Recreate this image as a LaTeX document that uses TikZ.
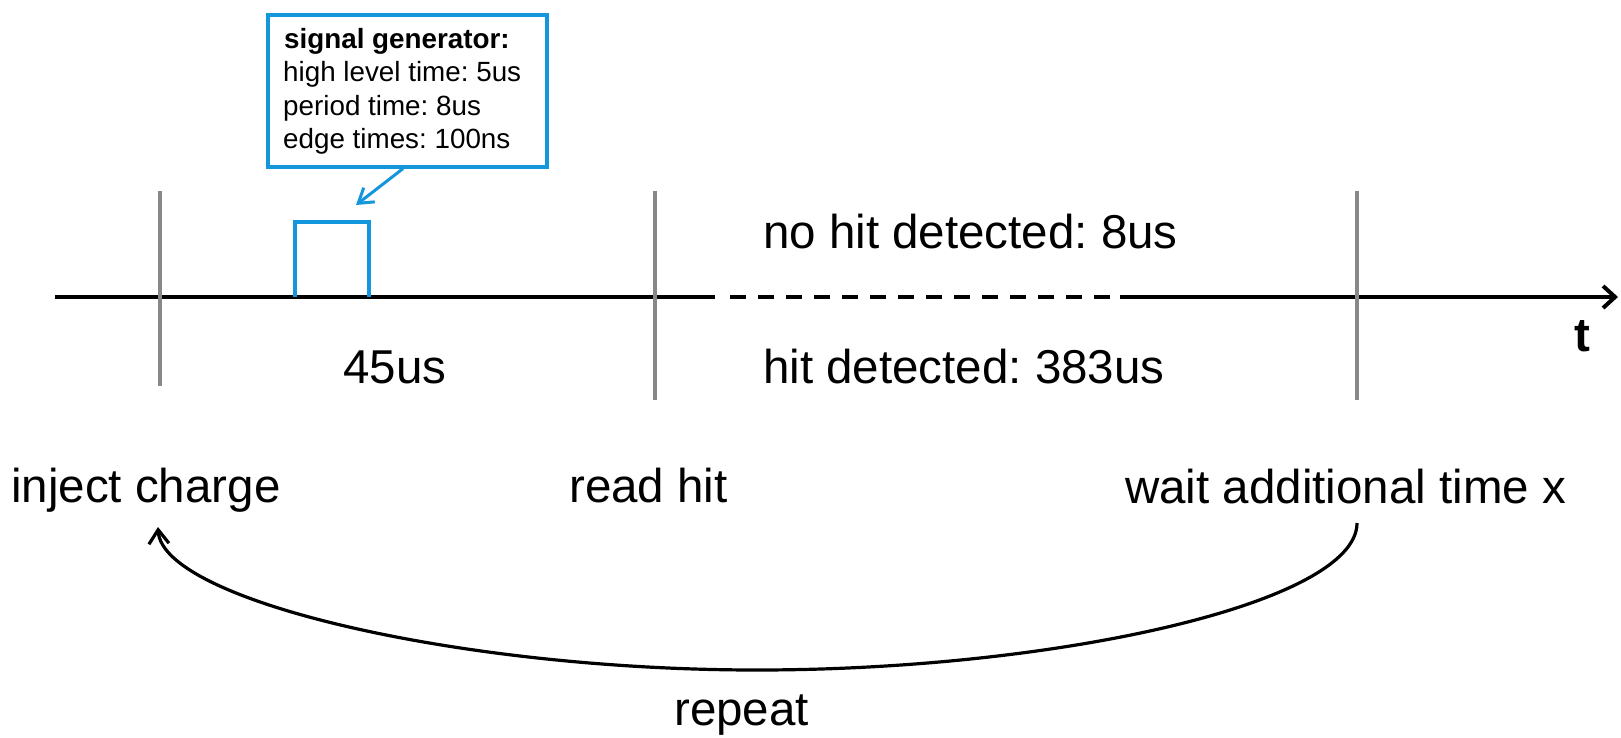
\documentclass[tikz,border=0pt]{standalone}
\usepackage{fontspec}
\setmainfont{Liberation Sans}
\usetikzlibrary{arrows.meta}
\definecolor{sigblue}{RGB}{20,150,220}
\definecolor{markgray}{RGB}{136,136,136}
\begin{document}
\frenchspacing
\begin{tikzpicture}[x=1pt,y=-1pt,
  big/.style={font=\fontsize{47.5}{57}\selectfont\frenchspacing, inner sep=0pt, anchor=base west},
  small/.style={font=\fontsize{27.8}{33.4}\selectfont\frenchspacing, inner sep=0pt, anchor=base west},
  tickline/.style={draw=markgray, line width=3.5pt},
  axisline/.style={draw=black, line width=4pt},
  blueline/.style={draw=sigblue, line width=3.3pt},
  callbox/.style={draw=sigblue, line width=3.6pt, inner sep=0pt, anchor=north west},
 ]
\useasboundingbox (0,0) rectangle (1621,737);

% time axis
\coordinate (ax0) at (55,297);
\coordinate (axA) at (715,297);
\coordinate (axB) at (730,297);
\coordinate (axC) at (1110,297);
\coordinate (axD) at (1120,297);
\coordinate (axE) at (1618,297);
\draw[axisline] (ax0) -- (axA);
\draw[axisline, dash pattern=on 15.8pt off 12.2pt] (axB) -- (axC);
\draw[axisline, -{Straight Barb[length=12pt,width=22pt]}] (axD) -- (axE);

% tick marks
\draw[tickline] (160,191) -- (160,386);
\draw[tickline] (655,191) -- (655,400);
\draw[tickline] (1357,191) -- (1357,400);

% pulse
\draw[blueline] (295,297) -- (295,222) -- (369,222) -- (369,297);

% callout box
\node[callbox, minimum width=279pt, minimum height=152pt] (gen) at (266,13) {};
\node[small, font=\fontsize{27.8}{33.4}\selectfont\bfseries\frenchspacing] (g1) at (284,48) {signal generator:};
\node[small] (g2) at (283,81.5) {high level time: 5us};
\node[small] (g3) at (283,115) {period time: 8us};
\node[small] (g4) at (283,148.5) {edge times: 100ns};
\coordinate (calltip) at (356,205);
\draw[blueline, line width=3pt, -{Straight Barb[length=14pt,width=18pt]}] ([xshift=137pt]gen.south west) -- (calltip);

% labels
\node[big] (nohit) at (763,248) {no hit detected: 8us};
\node[big] (hit) at (763,383) {hit detected: 383us};
\node[big] (t45) at (343,383) {45us};
\node[big, font=\fontsize{47.5}{57}\selectfont\bfseries] (tlab) at (1574,351) {t};
\node[big] (inject) at (11,502) {inject charge};
\node[big] (read) at (569,502) {read hit};
\node[big] (wait) at (1125,503) {wait additional time x};
\node[big] (repeat) at (674,725) {repeat};

% repeat loop
\coordinate (cstart) at (1357,523);
\coordinate (cend) at (158,527);
\draw[line width=3.2pt, -{Straight Barb[length=14pt,width=20pt]}] (cstart) .. controls (1357,603) and (1057,670) .. (757,670) .. controls (457,670) and (162,600) .. (cend);
\end{tikzpicture}
\end{document}
